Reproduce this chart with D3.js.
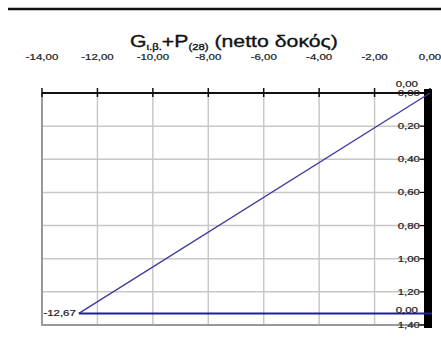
<!DOCTYPE html>
<html>
<head>
<meta charset="utf-8">
<script src="https://cdn.jsdelivr.net/npm/d3@7"></script>
<style>
  body { margin: 0; background: #fff; }
  svg { display: block; font-family: 'Liberation Sans', Arial, sans-serif; }
</style>
</head>
<body>
<svg id="chart" width="441" height="355"></svg>
<script>
// moment diagram values (x = moment, y = position)
const xTicks = [-14, -12, -10, -8, -6, -4, -2, 0]
const yTicks = [0, 0.2, 0.4, 0.6, 0.8, 1.0, 1.2, 1.4]
const diagX = [0.00, -12.67]
const diagY = [0, 1.33]
const baseX = [-12.67, 0.00]
const baseY = [1.33, 1.33]
const labels = ['0,00', '-12,67', '0,00']

const fmt = v => d3.format('.2f')(v).replace('.', ',').replace('−', '-')
const STRETCH = 1.35

const svg = d3.select('svg#chart')
const plot = { left: 42, right: 430, top: 93, bottom: 325 }

const x = d3.scaleLinear().domain([-14, 0]).range([plot.left, plot.right])
const y = d3.scaleLinear().domain([0, 1.4]).range([plot.top, plot.bottom])

// small stretched label
function label(sel, px, py, anchor) {
  return sel
    .attr('transform', (d, i) => `translate(${px(d, i)}, ${py(d, i)}) scale(${STRETCH}, 1)`)
    .attr('text-anchor', anchor)
    .style('font-size', '8.5px')
    .attr('fill', '#222')
    .attr('stroke', '#222').attr('stroke-width', 0.2)
}

// top rule
svg.append('line')
  .attr('x1', 8).attr('x2', 441)
  .attr('y1', 9).attr('y2', 9)
  .attr('stroke', '#111').attr('stroke-width', 2.5)

// title
const title = svg.append('text')
  .attr('text-anchor', 'middle')
  .style('font-size', '17px')
  .attr('fill', '#111')
  .attr('stroke', '#111').attr('stroke-width', 0.35)
title.append('tspan').text('G')
title.append('tspan').attr('dy', 3).style('font-size', '9px').text('ι.β.')
title.append('tspan').attr('dy', -3).text('+P')
title.append('tspan').attr('dy', 3).style('font-size', '9px').text('(28)')
title.append('tspan').attr('dy', -3).text(' (netto δοκός)')
const tw = title.node().getComputedTextLength()
title.attr('transform', `translate(234, 47) scale(${208 / tw}, 1)`)

// grid
svg.append('g').selectAll('line')
  .data(xTicks)
  .enter().append('line')
  .attr('x1', d => x(d)).attr('x2', d => x(d))
  .attr('y1', plot.top).attr('y2', plot.bottom)
  .attr('stroke', '#c8c8c8').attr('stroke-width', 1.5)

svg.append('g').selectAll('line')
  .data(yTicks)
  .enter().append('line')
  .attr('x1', plot.left).attr('x2', plot.right)
  .attr('y1', d => y(d)).attr('y2', d => y(d))
  .attr('stroke', '#c8c8c8').attr('stroke-width', 1.5)

// plot border (left, bottom)
svg.append('path')
  .attr('d', `M${plot.left},${plot.top}V${plot.bottom}H${plot.right}`)
  .attr('fill', 'none').attr('stroke', '#999').attr('stroke-width', 2)

// top x axis
const xAxis = svg.append('g')
  .attr('transform', `translate(0, ${plot.top})`)
xAxis.append('line')
  .attr('x1', plot.left).attr('x2', plot.right)
  .attr('stroke', '#111').attr('stroke-width', 1.8)
xAxis.selectAll('.xtick')
  .data(xTicks)
  .enter().append('line')
  .attr('x1', d => x(d)).attr('x2', d => x(d))
  .attr('y1', -5).attr('y2', 4)
  .attr('stroke', '#111').attr('stroke-width', 1.5)
label(xAxis.selectAll('.xlabel')
  .data(xTicks)
  .enter().append('text'), d => x(d), () => -33, 'middle')
  .text(d => fmt(d))

// right y axis (thick)
svg.append('line')
  .attr('x1', x(0) - 2).attr('x2', x(0) - 2)
  .attr('y1', plot.top - 4).attr('y2', plot.bottom + 3)
  .attr('stroke', '#000').attr('stroke-width', 8)
const yAxis = svg.append('g')
yAxis.selectAll('line')
  .data(yTicks)
  .enter().append('line')
  .attr('x1', x(0) - 10).attr('x2', x(0) - 4)
  .attr('y1', d => y(d)).attr('y2', d => y(d))
  .attr('stroke', '#000').attr('stroke-width', 1.2)
label(yAxis.selectAll('text')
  .data(yTicks)
  .enter().append('text'), () => x(0) - 10, d => y(d) + 3, 'end')
  .text(d => fmt(d))

// data lines
const line = d3.line().x(d => x(d[0])).y(d => y(d[1]))
svg.append('path')
  .attr('d', line(d3.zip(diagX, diagY)))
  .attr('fill', 'none').attr('stroke', '#3a3aa0').attr('stroke-width', 1.3)
svg.append('path')
  .attr('d', line(d3.zip(baseX, baseY)) + 'h2')
  .attr('fill', 'none').attr('stroke', '#1f1f9a').attr('stroke-width', 2)

// data labels
const pts = [[diagX[0], diagY[0]], [diagX[1], diagY[1]], [baseX[1], baseY[1]]]
const offs = [[-12, -6], [-3, 3], [-12, 0]]
label(svg.append('g').selectAll('text')
  .data(pts)
  .enter().append('text'),
  (d, i) => x(d[0]) + offs[i][0], (d, i) => y(d[1]) + offs[i][1], 'end')
  .text((d, i) => labels[i])
</script>
</body>
</html>
